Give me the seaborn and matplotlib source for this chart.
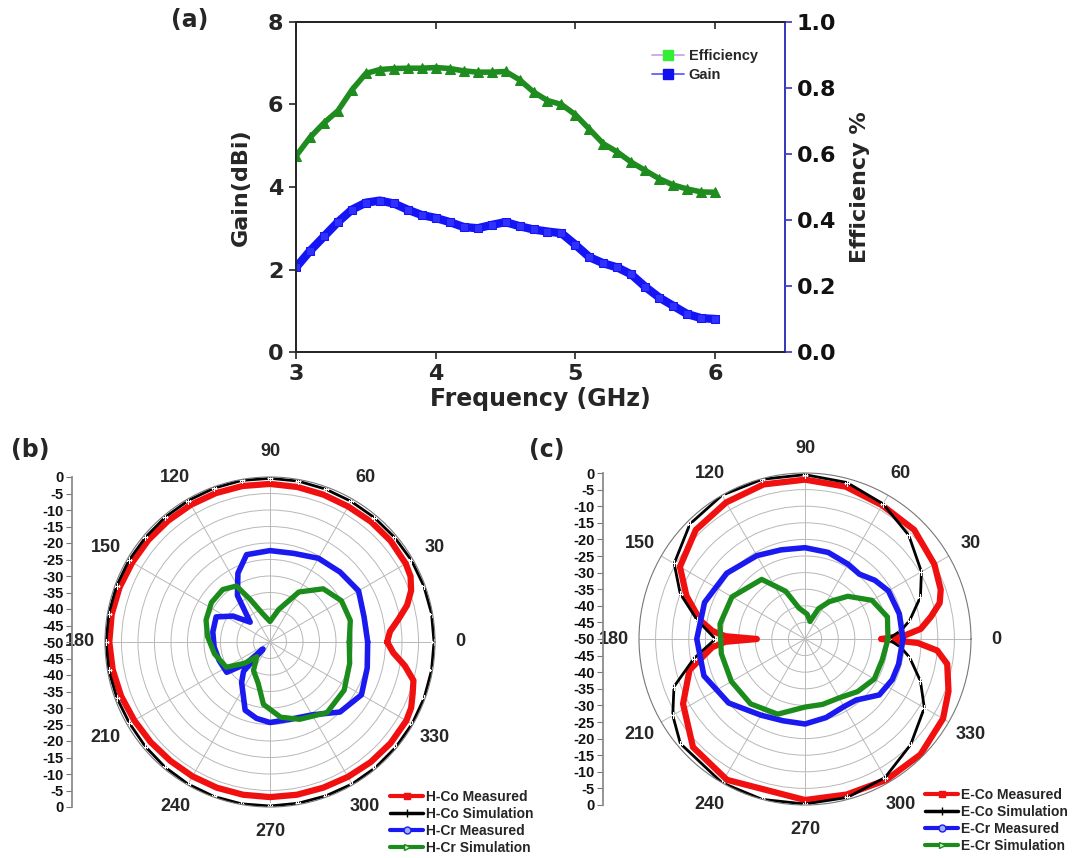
import matplotlib
matplotlib.use("Agg")
import numpy as np
import matplotlib.pyplot as plt
import seaborn as sns
from matplotlib.lines import Line2D

# ---- data: (a) gain / efficiency vs frequency ----
freq = [3.0, 3.1, 3.2, 3.3, 3.4, 3.5, 3.6, 3.7, 3.8, 3.9, 4.0, 4.1, 4.2, 4.3, 4.4, 4.5,
        4.6, 4.7, 4.8, 4.9, 5.0, 5.1, 5.2, 5.3, 5.4, 5.5, 5.6, 5.7, 5.8, 5.9, 6.0]
gain = [2.05, 2.45, 2.8, 3.15, 3.45, 3.62, 3.67, 3.6, 3.45, 3.32, 3.25, 3.15, 3.03, 3.0, 3.08, 3.15,
        3.05, 2.97, 2.92, 2.88, 2.6, 2.3, 2.15, 2.05, 1.88, 1.58, 1.32, 1.12, 0.92, 0.82, 0.8]
efficiency = [0.594, 0.65, 0.694, 0.731, 0.794, 0.844, 0.856, 0.859, 0.86, 0.86, 0.862, 0.859, 0.852,
              0.848, 0.848, 0.85, 0.825, 0.788, 0.762, 0.75, 0.719, 0.675, 0.631, 0.606, 0.575, 0.55,
              0.525, 0.506, 0.494, 0.485, 0.484]

# ---- data: (b) H-plane patterns (deg, dB) ----
hco_meas_ang = [0, 5, 10, 15, 20, 25, 30, 40, 50, 60, 70, 80, 90, 100, 110, 120, 130, 140, 150, 160,
                170, 180, 190, 200, 210, 220, 230, 240, 250, 260, 270, 280, 290, 300, 310, 320, 330,
                335, 340, 345, 350, 355]
hco_meas_db = [-14.5, -13.5, -10.5, -7, -4.5, -3, -2.5, -2.3, -2.4, -2.6, -2.5, -2.3, -2.1, -2, -2, -2,
               -2, -1.9, -1.8, -1.5, -1.3, -1.3, -1.6, -2.0, -2.5, -2.8, -3, -3, -3, -3, -3, -3, -3,
               -2.8, -2.5, -2.3, -2.3, -2.8, -4, -5, -8.5, -12.5]
hco_sim_ang = list(range(0, 360, 10))
hco_sim_db = [-0.3, -0.3, -0.4, -0.5, -0.7, -0.8, -0.8, -0.7, -0.5, -0.4, -0.3, -0.4, -0.5, -0.6, -0.7,
              -0.6, -0.5, -0.4, -0.3, -0.4, -0.6, -0.8, -0.7, -0.5, -0.3, -0.2, -0.2, -0.3, -0.4, -0.4,
              -0.3, -0.3, -0.3, -0.3, -0.3, -0.3]
hcr_meas_ang = [0, 15, 30, 45, 60, 75, 90, 105, 115, 125, 135, 145, 155, 170, 185, 200, 215, 222, 225,
                228, 235, 250, 260, 270, 285, 300, 315, 330, 345]
hcr_meas_db = [-20.4, -20.5, -19, -20, -20.7, -22.2, -22.3, -22.6, -27, -32.8, -41.5, -36.3, -32, -32.4,
               -33, -33.6, -34, -40, -47, -38, -35, -28, -26.5, -25.6, -25.8, -24.5, -20, -18, -19.5]
hcr_sim_ang = [0, 15, 30, 45, 60, 75, 90, 105, 115, 121, 132, 146, 161, 175, 192, 210, 220, 228, 240,
               254, 264, 278, 291, 309, 327, 345]
hcr_sim_db = [-26, -24.8, -25, -27.2, -32.5, -39.8, -43.8, -41, -35.7, -30.2, -28.6, -28.6, -29.5, -31,
              -32.8, -34.7, -40, -44, -40, -37, -31, -27, -24.9, -22.5, -23.2, -25]

# ---- data: (c) E-plane patterns (deg, dB) ----
eco_meas_ang = [0, 2, 5, 10, 15, 20, 30, 45, 60, 75, 90, 105, 120, 135, 150, 160, 170, 175, 178, 180,
                182, 185, 195, 208, 224, 241, 270, 285, 300, 315, 330, 340, 350, 355, 358]
eco_meas_db = [-27, -20, -15, -11.5, -8, -6.5, -5, -3.5, -3.5, -2.5, -2, -1.8, -2.5, -3.5, -6.5, -12,
               -18, -22, -26, -35.5, -26, -22, -14, -8.4, -3.1, -1.5, -1.5, -1.5, -1, -0.8, -2, -4,
               -6.5, -10, -16]
eco_sim_ang = [0, 5, 10, 20, 30, 45, 60, 75, 90, 105, 120, 135, 150, 160, 170, 180, 190, 200, 210, 220,
               240, 255, 270, 285, 300, 315, 330, 340, 350, 355]
eco_sim_db = [-25, -21, -18, -13, -9.5, -5.8, -3, -1.2, -0.5, -0.2, 0, -1, -4.5, -10, -17, -23, -16,
              -8, -4, -1, 0, 0, -0.3, -0.6, -1.8, -5, -8.5, -13, -18, -21]
ecr_meas_ang = [0, 15, 30, 40, 50, 60, 75, 90, 105, 120, 140, 160, 180, 200, 220, 240, 255, 270, 285,
                300, 310, 323, 335, 345]
ecr_meas_db = [-20.5, -20.6, -21, -22.5, -24.5, -24, -23, -22.5, -22.2, -21, -19.2, -17.8, -17.4, -17.6,
               -20, -23.5, -24.5, -24.4, -25.5, -26.5, -26, -22, -21, -20.8]
ecr_sim_ang = [0, 15, 30, 45, 57, 66, 74, 85, 101, 112, 126, 150, 170, 190, 210, 230, 250, 270, 285,
               300, 315, 330, 345]
ecr_sim_db = [-25, -24.3, -26.7, -31.8, -36.6, -40, -44.5, -42.5, -40.5, -34.5, -27.8, -24.6, -24,
              -24.4, -24.4, -24.5, -25.9, -29.5, -29.6, -29.5, -27.6, -25.9, -25.9]

theta_labels = ["0", "30", "60", "90", "120", "150", "180", "210", "240", "270", "300", "330"]
radial_labels = ["0", "-5", "-10", "-15", "-20", "-25", "-30", "-35", "-40", "-45", "-50",
                 "-45", "-40", "-35", "-30", "-25", "-20", "-15", "-10", "-5", "0"]
h_names = ["H-Co Measured", "H-Co Simulation", "H-Cr Measured", "H-Cr Simulation"]
e_names = ["E-Co Measured", "E-Co Simulation", "E-Cr Measured", "E-Cr Simulation"]

sns.set_theme(style="ticks")
plt.rcParams['font.family'] = ['DejaVu Sans']
SANS = 'Liberation Sans'

W, H = 1084, 858
fig = plt.figure(figsize=(W / 100, H / 100), dpi=100)

# ---------------- (a) ----------------
ax = fig.add_axes([296 / W, 1 - 352 / H, 489 / W, 330 / H])
sns.lineplot(x=freq, y=gain, ax=ax, color='#1414f5', linewidth=6, marker='s', markersize=6,
             markeredgecolor='#1414f5', markerfacecolor='#3030ff')
ax.set_xlim(3, 6.5)
ax.set_ylim(0, 8)
ax.set_xticks([3, 4, 5, 6])
ax.set_yticks([0, 2, 4, 6, 8])
ax.tick_params(axis='both', direction='out', length=5, width=1.2, labelsize=16, pad=4)
for lab in ax.get_xticklabels() + ax.get_yticklabels():
    lab.set_fontweight('bold')
ax.set_xlabel("Frequency (GHz)", fontsize=17, fontweight='bold', labelpad=2)
ax.set_ylabel("Gain(dBi)", fontsize=16, fontweight='bold', labelpad=12)
for s in ['left', 'bottom', 'top']:
    ax.spines[s].set_color('#222222')
    ax.spines[s].set_linewidth(1.3)
top = ax.secondary_xaxis('top')
top.set_xticks([3, 4, 5, 6])
top.tick_params(direction='in', length=5, width=1.2, labeltop=False)
top.spines['top'].set_linewidth(1.3)

ax2 = ax.twinx()
sns.lineplot(x=freq, y=efficiency, ax=ax2, color='#1e8c1e', linewidth=4, marker='^', markersize=7,
             markeredgecolor='#1e8c1e', markerfacecolor='#1e8c1e')
ax2.set_ylim(0, 1.0)
ax2.set_yticks([0.0, 0.2, 0.4, 0.6, 0.8, 1.0])
ax2.set_yticklabels(["0.0", "0.2", "0.4", "0.6", "0.8", "1.0"], fontsize=16, fontweight='bold')
ax2.tick_params(axis='y', direction='out', length=5, width=1.2, colors='#3333cc', labelcolor='#111111')
ax2.spines['right'].set_color('#3a3acc')
ax2.spines['right'].set_linewidth(1.3)
ax2.set_ylabel("Efficiency %", fontsize=16, fontweight='bold', labelpad=10)

leg_a = [Line2D([], [], color='#c9a6e6', lw=1.3, marker='s', ms=7, mfc='#33ee33', mec='#33ee33'),
         Line2D([], [], color='#6060ff', lw=1.3, marker='s', ms=7, mfc='#1010ee', mec='#1010ee')]
fig.legend(leg_a, ["Efficiency", "Gain"], loc='upper left', bbox_to_anchor=(645 / W, 1 - 42 / H),
           frameon=False, borderpad=0, handlelength=2.2, handletextpad=0.3, labelspacing=0.35,
           prop={'family': SANS, 'weight': 'bold', 'size': 10.5})

fig.text(190 / W, 1 - 20 / H, "(a)", fontsize=17, fontweight='bold', ha='center', va='center')


# ---------------- polar panels ----------------
def closed(ang, val):
    return np.deg2rad(np.append(ang, ang[0] + 360)), np.append(val, val[0])


styles = [dict(color='#f01010', linewidth=4.5),
          dict(color='#000000', linewidth=2.0, marker='+', markersize=5, markeredgewidth=0.8),
          dict(color='#1a1af0', linewidth=4.0),
          dict(color='#1b8c1b', linewidth=3.8)]


def polar_panel(cx, cy, rad, axis_x, curves, names_, leg_xy, tag, tag_xy):
    axp = fig.add_axes([(cx - rad) / W, 1 - (cy + rad) / H, 2 * rad / W, 2 * rad / H],
                       projection='polar')
    for (ang, val), st in zip(curves, styles):
        th, r = closed(ang, val)
        sns.lineplot(x=th, y=r, ax=axp, sort=False, estimator=None, **st)
    axp.set_ylim(-50, 0)
    axp.set_yticks(np.arange(-45, 0, 5))
    axp.set_yticklabels([])
    axp.set_thetagrids(np.arange(0, 360, 30), labels=theta_labels)
    for lab in axp.get_xticklabels():
        lab.set_fontsize(13)
        lab.set_fontweight('bold')
        lab.set_family(SANS)
    axp.tick_params(axis='x', pad=5)
    axp.grid(True, color='#b8b8b8', linewidth=0.7)
    axp.spines['polar'].set_color('#777777')
    axp.spines['polar'].set_linewidth(0.8)
    axp.set_xlabel("")
    axp.set_ylabel("")

    axr = fig.add_axes([axis_x / W, 1 - (cy + rad) / H, 0.0005, 2 * rad / H])
    axr.set_ylim(0, len(radial_labels) - 1)
    axr.set_yticks(range(len(radial_labels)))
    axr.set_yticklabels(radial_labels, fontsize=10.5, fontweight='bold', family=SANS)
    axr.tick_params(axis='y', direction='out', length=4, width=0.8, colors='#777777',
                    labelcolor='#111111', pad=2)
    axr.set_xticks([])
    for s in ['top', 'right', 'bottom']:
        axr.spines[s].set_visible(False)
    axr.spines['left'].set_color('#888888')
    axr.patch.set_alpha(0)

    handles = [Line2D([], [], color='#f01010', lw=3, marker='s', ms=4),
               Line2D([], [], color='#000000', lw=2.5, marker='+', ms=6),
               Line2D([], [], color='#1a1af0', lw=3, marker='o', ms=5, mfc='#9ab0ff'),
               Line2D([], [], color='#1b8c1b', lw=3, marker='>', ms=5, mfc='#d0f0d0')]
    fig.legend(handles, names_, loc='upper left', bbox_to_anchor=(leg_xy[0] / W, 1 - leg_xy[1] / H),
               frameon=False, borderpad=0, handlelength=2.4, handletextpad=0.2, labelspacing=0.22,
               prop={'family': SANS, 'weight': 'bold', 'size': 10})
    fig.text(tag_xy[0] / W, 1 - tag_xy[1] / H, tag, fontsize=17, fontweight='bold',
             ha='center', va='center')


polar_panel(270, 642, 165, 72,
            [(hco_meas_ang, hco_meas_db), (hco_sim_ang, hco_sim_db),
             (hcr_meas_ang, hcr_meas_db), (hcr_sim_ang, hcr_sim_db)],
            h_names, (383, 783), "(b)", (30, 450))
polar_panel(805, 639, 166, 603,
            [(eco_meas_ang, eco_meas_db), (eco_sim_ang, eco_sim_db),
             (ecr_meas_ang, ecr_meas_db), (ecr_sim_ang, ecr_sim_db)],
            e_names, (918, 781), "(c)", (547, 450))

fig.savefig("out.png", dpi=100)
